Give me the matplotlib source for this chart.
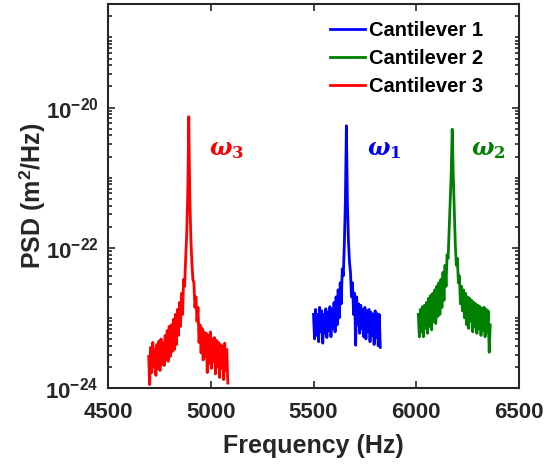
import numpy as np
import matplotlib
matplotlib.use("Agg")
import matplotlib.pyplot as plt
from matplotlib.ticker import FixedLocator, LogLocator, NullFormatter

plt.rcParams['font.family'] = ['Liberation Sans', 'DejaVu Sans']
plt.rcParams['font.weight'] = 'bold'
plt.rcParams['mathtext.fontset'] = 'custom'
plt.rcParams['mathtext.rm'] = 'Liberation Sans:bold'
plt.rcParams['mathtext.it'] = 'DejaVu Serif:italic:bold'
plt.rcParams['mathtext.bf'] = 'DejaVu Serif:bold'

# ---- data (log10 of PSD in m^2/Hz) ----
blue_freq = np.arange(5500, 5826, 5)
blue_log_psd = [
    -22.95, -23.30, -22.88, -23.25, -22.95, -23.34, -22.85, -23.20, -22.90, -23.36,
    -22.95, -23.22, -22.87, -23.28, -22.92, -23.18, -22.84, -23.27, -22.88, -23.15,
    -22.78, -23.20, -22.70, -23.10, -22.60, -23.00, -22.50, -22.80, -22.30, -22.40,
    -21.95, -21.35, -20.26, -21.35, -21.90, -22.20, -22.35, -22.70, -22.50, -22.95,
    -22.65, -23.39, -22.70, -23.10, -22.80, -23.22, -22.82, -23.15, -22.88, -23.27,
    -22.85, -23.30, -22.90, -23.20, -22.88, -23.34, -22.92, -23.25, -22.95, -23.38,
    -22.90, -23.28, -22.94, -23.40, -22.95, -23.42]

green_freq = np.arange(6010, 6361, 5)
green_log_psd = [
    -22.95, -23.27, -22.88, -23.20, -22.84, -23.27, -22.82, -23.15, -22.78, -23.22,
    -22.72, -23.12, -22.68, -23.17, -22.65, -23.05, -22.60, -23.08, -22.55, -22.98,
    -22.50, -22.95, -22.45, -22.85, -22.35, -22.75, -22.25, -22.55, -22.10, -22.15,
    -21.75, -21.35, -20.95, -20.31, -20.95, -21.45, -21.95, -22.25, -22.15, -22.50,
    -22.40, -22.80, -22.55, -22.90, -22.60, -23.00, -22.65, -23.10, -22.70, -23.15,
    -22.72, -23.05, -22.75, -23.20, -22.78, -23.12, -22.80, -23.22, -22.82, -23.15,
    -22.84, -23.25, -22.86, -23.18, -22.85, -23.27, -22.88, -23.20, -22.90, -23.49,
    -23.10]

red_freq = np.arange(4698, 5084, 5)
red_log_psd = [
    -23.55, -23.95, -23.42, -23.78, -23.35, -23.70, -23.45, -23.82, -23.38, -23.72,
    -23.33, -23.75, -23.30, -23.66, -23.36, -23.68, -23.25, -23.60, -23.18, -23.62,
    -23.12, -23.55, -23.10, -23.48, -23.02, -23.45, -22.95, -23.38, -22.88, -23.25,
    -22.78, -23.12, -22.65, -22.95, -22.45, -22.55, -22.15, -21.80, -21.25, -20.13,
    -21.25, -21.85, -22.20, -22.45, -22.50, -22.85, -22.70, -23.05, -22.85, -23.35,
    -23.10, -23.50, -23.15, -23.60, -23.20, -23.55, -23.22, -23.78, -23.25, -23.65,
    -23.20, -23.72, -23.30, -23.62, -23.28, -23.80, -23.32, -23.70, -23.35, -23.85,
    -23.38, -23.72, -23.40, -23.88, -23.36, -23.75, -23.45, -23.93]

series_labels = ['Cantilever 1', 'Cantilever 2', 'Cantilever 3']
series_colors = ['#0000FF', '#008000', '#FF0000']
peak_labels = [r'$\omega_{\mathbf{1}}$', r'$\omega_{\mathbf{2}}$', r'$\omega_{\mathbf{3}}$']
x_ticks = [4500, 5000, 5500, 6000, 6500]
y_ticks = [1e-24, 1e-22, 1e-20]
y_tick_labels = [r'$10^{-24}$', r'$10^{-22}$', r'$10^{-20}$']

W, H = 548, 468
fig = plt.figure(figsize=(W / 100, H / 100), dpi=100)
L, R, T, B = 108, 519, 4, 388
ax = fig.add_axes([L / W, (H - B) / H, (R - L) / W, (B - T) / H])

dark = '#262626'
freqs = [blue_freq, green_freq, red_freq]
vals = [blue_log_psd, green_log_psd, red_log_psd]
for f, v, c, lab in zip(freqs, vals, series_colors, series_labels):
    ax.plot(f, 10.0 ** np.asarray(v), color=c, lw=2.0, label=lab)

ax.set_yscale('log')
ax.set_xlim(4500, 6500)
ax.set_ylim(1e-24, 3e-19)
ax.xaxis.set_major_locator(FixedLocator(x_ticks))
ax.set_xticklabels([str(t) for t in x_ticks])
ax.yaxis.set_major_locator(FixedLocator(y_ticks))
ax.yaxis.set_minor_locator(LogLocator(base=10, subs=np.arange(1, 10), numticks=30))
ax.yaxis.set_minor_formatter(NullFormatter())
ax.set_yticklabels(y_tick_labels)

ax.tick_params(which='both', direction='in', top=True, right=True, colors=dark,
               labelsize=16, width=1.2)
ax.tick_params(which='major', length=5)
ax.tick_params(axis='x', which='major', pad=10)
ax.tick_params(axis='y', which='major', pad=7)
ax.tick_params(which='minor', length=3)
for lbl in ax.get_xticklabels() + ax.get_yticklabels():
    lbl.set_fontweight('bold')
for s in ax.spines.values():
    s.set_color(dark)
    s.set_linewidth(1.5)

ax.set_xlabel('Frequency (Hz)', fontsize=18, fontweight='bold', color=dark, labelpad=8)
ax.set_ylabel(r'PSD (m$^2$/Hz)', fontsize=18, fontweight='bold', color=dark, labelpad=-2)

# peak labels
peak_text_x = [5760, 6265, 4990]
for px, lab, c in zip(peak_text_x, peak_labels, series_colors):
    ax.text(px, 2.5e-21, lab, color=c, fontsize=17, ha='left', va='center')

leg = ax.legend(loc='upper left', bbox_to_anchor=(330 / W, 1 - 21 / H),
                bbox_transform=fig.transFigure, frameon=False, fontsize=14.5,
                handlelength=1.75, handletextpad=0.2, labelspacing=0.45,
                borderpad=0, borderaxespad=0)
for t in leg.get_texts():
    t.set_fontweight('bold')
for ln in leg.get_lines():
    ln.set_linewidth(2)

fig.savefig('out.png', dpi=100)
